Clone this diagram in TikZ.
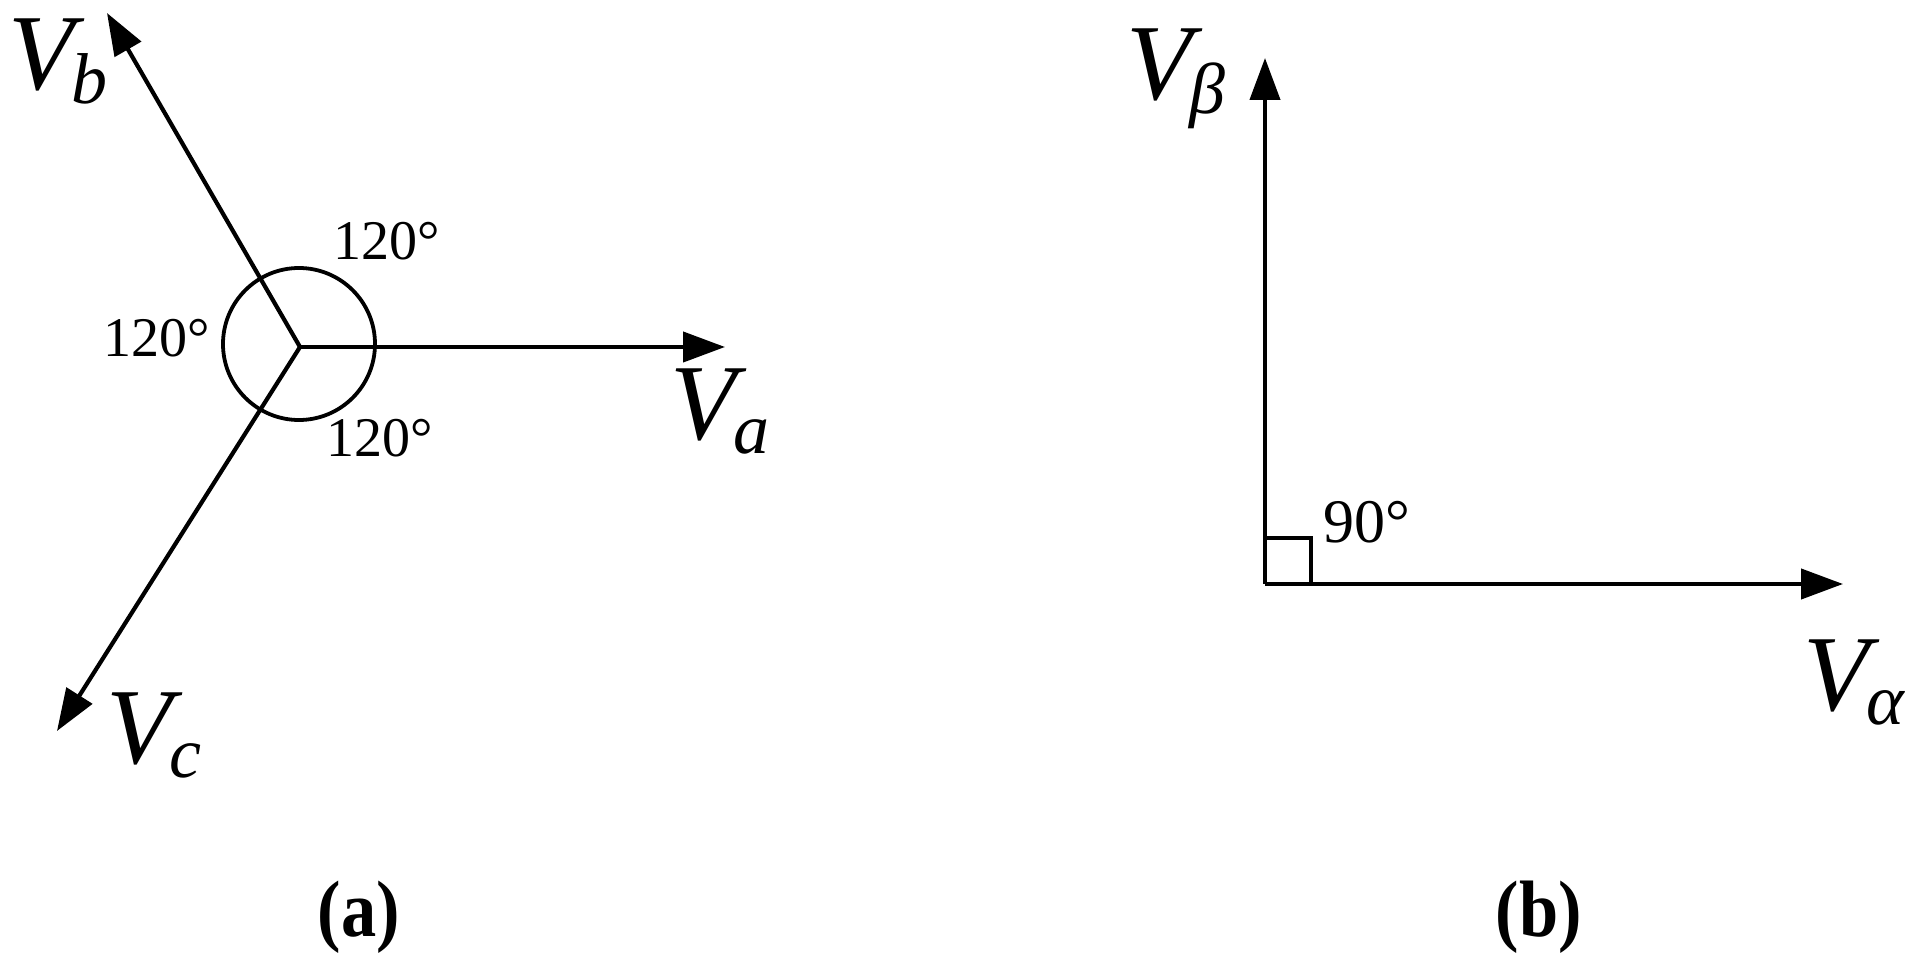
\documentclass[tikz,border=0pt]{standalone}
\usepackage{fontspec}
\setmainfont{Liberation Serif}
\usetikzlibrary{arrows.meta}
\newcommand\vsub[1]{\kern-1.5pt\raisebox{-7pt}{\fontsize{36}{36}\selectfont #1}}
\newcommand\captxt[1]{\scalebox{0.88}[1]{#1}}
\begin{document}
\begin{tikzpicture}[x=0.5pt,y=-0.5pt,
  vec/.style={line width=2.1pt,-{Triangle[length=21pt,width=15pt]}},
  stroke/.style={line width=1.9pt},
  vlab/.style={inner sep=0pt,anchor=base west,font=\fontsize{54}{54}\selectfont\itshape},
  deg/.style={inner sep=0pt,anchor=base west,font=\fontsize{28}{28}\selectfont},
  capt/.style={inner sep=0pt,anchor=base,font=\fontsize{40}{40}\selectfont\bfseries}]
\useasboundingbox (0,0) rectangle (1907,967);
% ---- panel (a)
\coordinate (O1) at (300,347);
\coordinate (Ta) at (725,347);
\coordinate (Tb) at (107,13);
\coordinate (Tc) at (57,731);
\coordinate (C1) at (299,344);
\draw[vec] (O1) -- (Ta);
\draw[vec] (O1) -- (Tb);
\draw[vec] (O1) -- (Tc);
\draw[stroke] (C1) circle[radius=76];
\node[vlab] (Lb) at (8,90) {V\vsub{b}};
\node[vlab] (La) at (670,440) {V\vsub{a}};
\node[vlab] (Lc) at (106,763) {V\vsub{c}};
\node[deg] (D1) at (333,260) {120°};
\node[deg] (D2) at (103,357) {120°};
\node[deg] (D3) at (326,457) {120°};
\node[capt] (Ca) at (359,936) {\captxt{(a)}};
% ---- panel (b)
\coordinate (O2) at (1265,584);
\coordinate (Tal) at (1843,584);
\coordinate (Tbe) at (1265,58);
\coordinate (Sq) at (1311,538);
\draw[vec] (O2) -- (Tal);
\draw[vec] (O2) -- (Tbe);
\draw[stroke] (O2 |- Sq) -- (Sq) -- (Sq |- O2);
\node[vlab] (Lbe) at (1126,100) {V\vsub{β}};
\node[vlab] (Lal) at (1803,711) {V\vsub{α}};
\node[deg] (D4) at (1323,543) {\fontsize{31}{31}\selectfont 90°};
\node[capt] (Cb) at (1539,936) {\captxt{(b)}};
\end{tikzpicture}
\end{document}
